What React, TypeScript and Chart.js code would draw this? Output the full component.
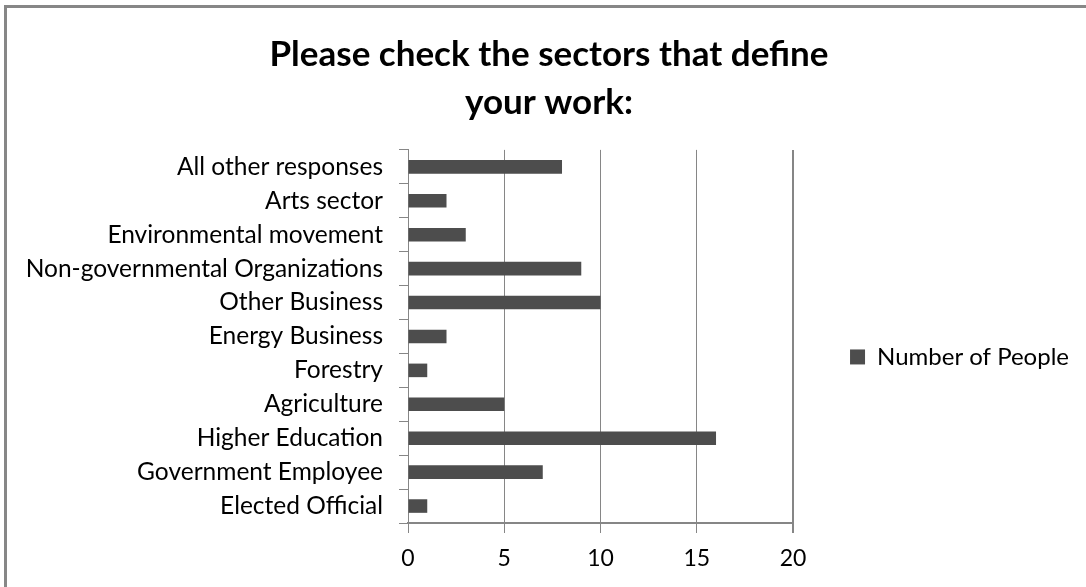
import React, { useEffect, useRef } from "react";
import { Chart, registerables } from "chart.js";

Chart.register(...registerables);

const titleLines = ["Please check the sectors that define", "your work:"];
const categories = [
  "All other responses",
  "Arts sector",
  "Environmental movement",
  "Non-governmental Organizations",
  "Other Business",
  "Energy Business",
  "Forestry",
  "Agriculture",
  "Higher Education",
  "Government Employee",
  "Elected Official",
];
const seriesName = "Number of People";
const numberOfPeople = [8, 2, 3, 9, 10, 2, 1, 5, 16, 7, 1];
const xMin = 0;
const xMax = 20;
const xStep = 5;

const FONT = "Lato, 'Noto Sans', sans-serif";
const GRID = "#868686";
const BAR = "#4d4d4d";

export default function App() {
  const canvasRef = useRef<HTMLCanvasElement | null>(null);

  useEffect(() => {
    const canvas = canvasRef.current;
    if (!canvas) return;
    const chart = new Chart(canvas, {
      type: "bar",
      data: {
        labels: categories,
        datasets: [
          {
            label: seriesName,
            data: numberOfPeople,
            backgroundColor: BAR,
            borderWidth: 0,
            barPercentage: 0.4,
            categoryPercentage: 1,
          },
        ],
      },
      options: {
        indexAxis: "y",
        responsive: false,
        animation: false,
        layout: { padding: { left: 19, right: 7, top: 0, bottom: 0 } },
        plugins: {
          title: {
            display: true,
            text: titleLines,
            color: "#000",
            font: { family: FONT, size: 35, weight: "bold", lineHeight: 1.37 },
            padding: { top: 31, bottom: 23 },
          },
          legend: {
            position: "right",
            fullSize: false,
            align: "center",
            maxWidth: 400,
            title: {
              display: true,
              text: " ",
              font: { size: 1, lineHeight: 1 },
              padding: { top: 40, bottom: 0 },
            },
            labels: {
              boxWidth: 15,
              boxHeight: 15,
              padding: 57,
              color: "#000",
              font: { family: FONT, size: 24 },
            },
          },
          tooltip: { enabled: false },
        },
        scales: {
          y: {
            type: "category",
            grid: {
              display: true,
              drawOnChartArea: false,
              drawTicks: true,
              tickLength: 9,
              color: GRID,
              offset: true,
            },
            border: { display: true, color: GRID, width: 1 },
            ticks: {
              color: "#000",
              padding: 16,
              font: { family: FONT, size: 24.5 },
              autoSkip: false,
            },
            afterFit: (scale: any) => {
              scale.width = 389;
            },
          },
          x: {
            type: "linear",
            min: xMin,
            max: xMax,
            ticks: {
              stepSize: xStep,
              color: "#000",
              padding: 12,
              font: { family: FONT, size: 23 },
            },
            grid: {
              color: GRID,
              tickLength: 10,
              lineWidth: (ctx: any) => (ctx.tick && ctx.tick.value === xMax ? 2 : 1),
            },
            border: { display: true, color: GRID, width: 2 },
            afterFit: (scale: any) => {
              scale.height = 64;
            },
          },
        },
      },
    });
    return () => chart.destroy();
  }, []);

  return (
    <div
      style={{
        position: "fixed",
        left: 0,
        top: 0,
        width: 1086,
        height: 587,
        overflow: "hidden",
        background: "#fff",
      }}
    >
      <div
        style={{
          position: "absolute",
          left: 4,
          top: 5,
          width: 1200,
          height: 700,
          borderLeft: "3px solid #878787",
          borderTop: "3px solid #878787",
        }}
      />
      <canvas
        ref={canvasRef}
        width={1086}
        height={587}
        style={{ position: "absolute", left: 0, top: 0, display: "block" }}
      />
    </div>
  );
}
